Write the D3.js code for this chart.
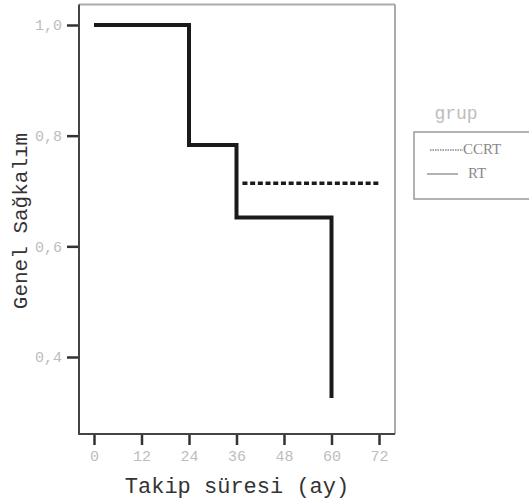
<!DOCTYPE html>
<html>
<head>
<meta charset="utf-8">
<script src="https://cdn.jsdelivr.net/npm/d3@7"></script>
<style>
  body { margin: 0; background: #fff; }
  svg { display: block; }
</style>
</head>
<body>
<div id="container"></div>
<script>
/* 1. DATA */
const xTicks = [0, 12, 24, 36, 48, 60, 72];
const yTicks = [0.4, 0.6, 0.8, 1.0];

// RT survival steps (months, survival)
const rtTime = [0, 24, 36, 60];
const rtSurv = [1.0, 0.783, 0.652, 0.326];

// CCRT visible segment
const ccrtTime = [37.5, 72.5];
const ccrtSurv = [0.714, 0.714];

const groups = ["CCRT", "RT"];

/* 2. SIZES */
const width = 529, height = 504;
const frame = {left: 79, right: 395, top: 4.5, bottom: 434};

/* 3. SCALES */
const xScale = d3.scaleLinear().domain([0, 72]).range([94, 379]);
const yScale = d3.scaleLinear().domain([0.4, 1.0]).range([357, 25]);

const svg = d3.select("#container").append("svg")
  .attr("width", width).attr("height", height);

const mono = "'Liberation Mono', 'DejaVu Sans Mono', monospace";

// frame: top/right light, left/bottom dark
svg.append("line").attr("x1", frame.left).attr("x2", frame.right)
   .attr("y1", frame.top).attr("y2", frame.top)
   .attr("stroke", "#aaa").attr("stroke-width", 2);
svg.append("line").attr("x1", frame.right).attr("x2", frame.right)
   .attr("y1", frame.top).attr("y2", frame.bottom)
   .attr("stroke", "#aaa").attr("stroke-width", 2);

/* 4. AXES */
const yAxis = d3.axisLeft(yScale).tickValues(yTicks).tickSize(12).tickPadding(5)
  .tickFormat(d => d3.format(".1f")(d).replace(".", ","));
const gy = svg.append("g").attr("transform", `translate(${frame.left},0)`).call(yAxis);
gy.select(".domain").remove();
gy.selectAll(".tick line").attr("stroke", "#333").attr("stroke-width", 2.5);
gy.selectAll(".tick text").attr("fill", "#bdbdbd").attr("font-family", mono)
  .attr("font-size", 15);

const xAxis = d3.axisBottom(xScale).tickValues(xTicks).tickSize(11).tickPadding(5);
const gx = svg.append("g").attr("transform", `translate(0,${frame.bottom})`).call(xAxis);
gx.select(".domain").remove();
gx.selectAll(".tick line").attr("stroke", "#333").attr("stroke-width", 2.5);
gx.selectAll(".tick text").attr("fill", "#bdbdbd").attr("font-family", mono)
  .attr("font-size", 15);

svg.append("line").attr("x1", frame.left).attr("x2", frame.left)
   .attr("y1", frame.top).attr("y2", frame.bottom + 1)
   .attr("stroke", "#444").attr("stroke-width", 2);
svg.append("line").attr("x1", frame.left).attr("x2", frame.right)
   .attr("y1", frame.bottom).attr("y2", frame.bottom)
   .attr("stroke", "#444").attr("stroke-width", 2);

// axis titles
svg.append("text")
   .attr("x", 237).attr("y", 493)
   .attr("text-anchor", "middle")
   .attr("font-family", mono).attr("font-size", 22)
   .attr("fill", "#333")
   .text("Takip süresi (ay)");

svg.append("text")
   .attr("transform", "translate(27,221) rotate(-90)")
   .attr("text-anchor", "middle")
   .attr("font-family", mono).attr("font-size", 21)
   .attr("fill", "#333")
   .text("Genel Sağkalım");

/* 5. CURVES */
const line = d3.line()
  .x(d => xScale(d[0]))
  .y(d => yScale(d[1]))
  .curve(d3.curveStepAfter);

svg.append("path")
   .datum(d3.zip(rtTime, rtSurv))
   .attr("d", line)
   .attr("fill", "none")
   .attr("stroke", "#1a1a1a")
   .attr("stroke-width", 4);

svg.append("path")
   .datum(d3.zip(ccrtTime, ccrtSurv))
   .attr("d", line)
   .attr("fill", "none")
   .attr("stroke", "#1a1a1a")
   .attr("stroke-width", 3.5)
   .attr("stroke-dasharray", "5,2.7");

/* 6. LEGEND */
svg.append("text")
   .attr("x", 456).attr("y", 119)
   .attr("text-anchor", "middle")
   .attr("font-family", mono).attr("font-size", 18)
   .attr("fill", "#bdbdbd")
   .text("grup");

svg.append("rect")
   .attr("x", 414).attr("y", 132)
   .attr("width", 130).attr("height", 67)
   .attr("fill", "none")
   .attr("stroke", "#999").attr("stroke-width", 1.5);

const legY = [150, 174];
const legLine = [[430, 463], [427, 458]];
const legText = [463, 468];
groups.forEach((g, i) => {
  svg.append("line")
     .attr("x1", legLine[i][0]).attr("x2", legLine[i][1])
     .attr("y1", legY[i]).attr("y2", legY[i])
     .attr("stroke", "#888").attr("stroke-width", 1.3)
     .attr("stroke-dasharray", g === "CCRT" ? "1.5,1" : null);
  svg.append("text")
     .attr("x", legText[i]).attr("y", legY[i] + 4)
     .attr("font-family", "'Liberation Serif', serif")
     .attr("font-size", 15)
     .attr("fill", "#888")
     .text(g);
});
</script>
</body>
</html>
